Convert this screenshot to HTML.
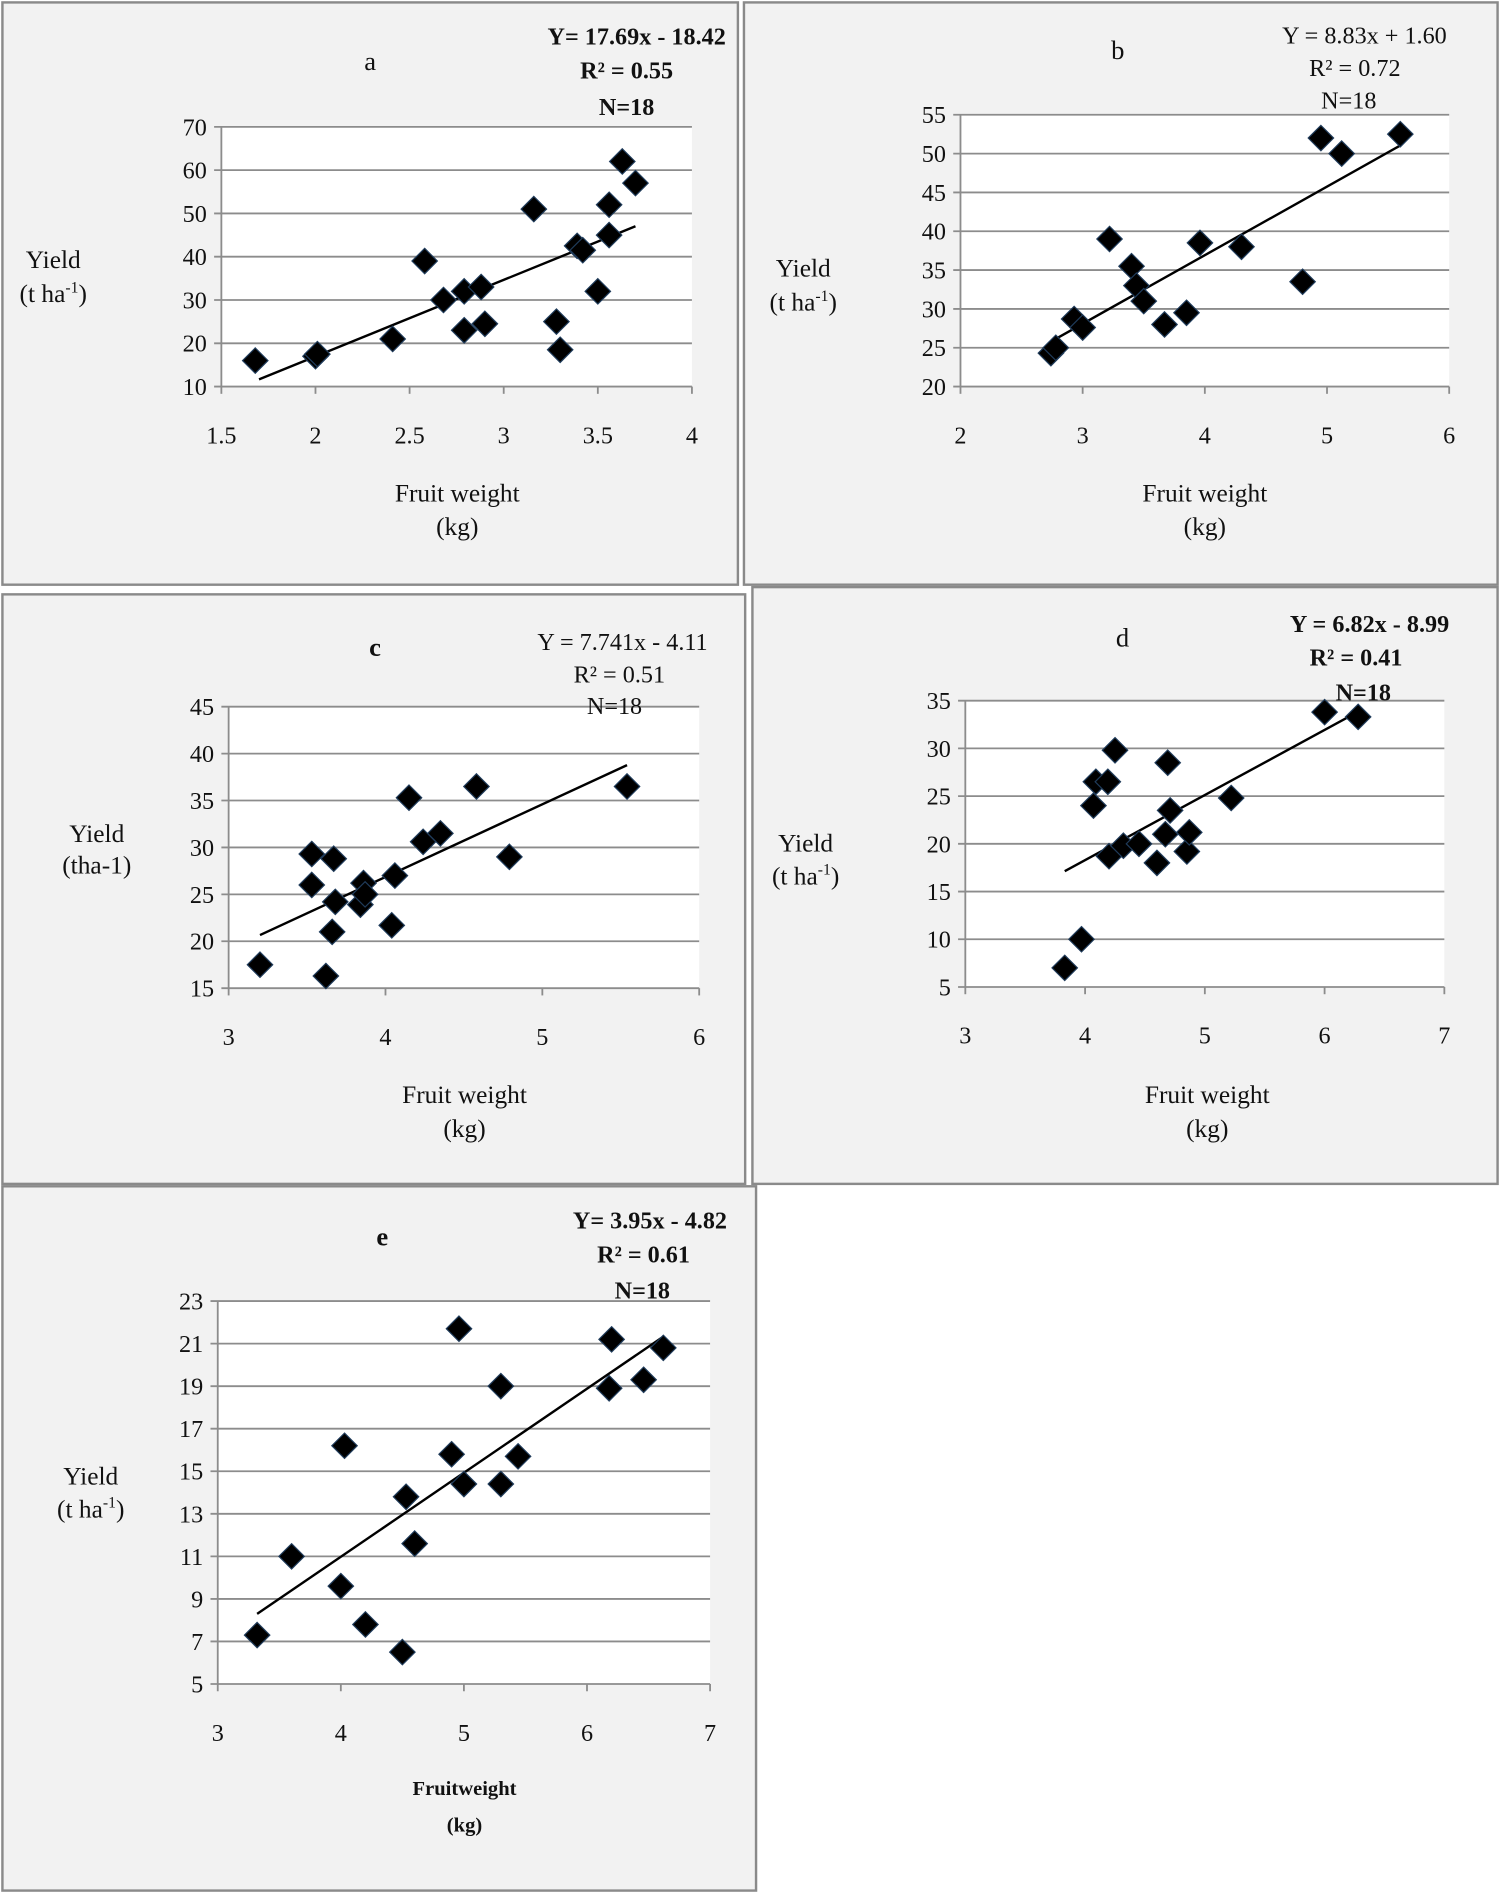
<!DOCTYPE html>
<html><head><meta charset="utf-8"><style>
html,body{margin:0;padding:0;background:#fff;}
svg{display:block;}
text{font-family:"Liberation Serif",serif;fill:#111;}
</style></head><body>
<svg id="root" width="1500" height="1893" viewBox="0 0 1240 1567" preserveAspectRatio="none" xmlns="http://www.w3.org/2000/svg"></svg>
<script>
// Panel a
const aX=[1.68,2.0,2.01,2.41,2.58,2.68,2.79,2.79,2.88,2.9,3.16,3.28,3.3,3.39,3.42,3.5,3.56,3.56,3.63,3.7];
const aY=[16,17,17.5,21,39,30,32,23,33,24.5,51,25,18.5,42.5,41.5,32,45,52,62,57];
const aXTicks=[1.5,2,2.5,3,3.5,4];
const aYTicks=[10,20,30,40,50,60,70];
const aEq=["Y= 17.69x - 18.42","R² = 0.55","N=18"];
const aCoef=[17.69,-18.42];
// Panel b
const bX=[2.74,2.78,2.93,3.0,3.22,3.4,3.44,3.5,3.67,3.85,3.96,4.3,4.8,4.95,5.12,5.6];
const bY=[24.3,25,28.7,27.6,39,35.5,33,31,28,29.5,38.5,38,33.5,52,50,52.5];
const bXTicks=[2,3,4,5,6];
const bYTicks=[20,25,30,35,40,45,50,55];
const bEq=["Y = 8.83x + 1.60","R² = 0.72","N=18"];
const bCoef=[8.83,1.60];
// Panel c
const cX=[3.2,3.53,3.53,3.62,3.66,3.67,3.68,3.84,3.86,3.87,4.04,4.06,4.15,4.24,4.35,4.58,4.79,5.54];
const cY=[17.5,29.3,26,16.3,21,28.8,24.2,23.9,26.2,25,21.7,27,35.3,30.6,31.5,36.5,29,36.5];
const cXTicks=[3,4,5,6];
const cYTicks=[15,20,25,30,35,40,45];
const cEq=["Y = 7.741x - 4.11","R² = 0.51","N=18"];
const cCoef=[7.741,-4.11];
// Panel d
const dX=[3.83,3.97,4.07,4.09,4.19,4.2,4.25,4.32,4.45,4.6,4.67,4.69,4.71,4.85,4.87,5.22,6.0,6.28];
const dY=[7,10,24,26.5,26.5,18.7,29.8,19.8,20,18,21,28.5,23.5,19.2,21.2,24.8,33.8,33.3];
const dXTicks=[3,4,5,6,7];
const dYTicks=[5,10,15,20,25,30,35];
const dEq=["Y = 6.82x - 8.99","R² = 0.41","N=18"];
const dCoef=[6.82,-8.99];
// Panel e
const eX=[3.32,3.6,4.0,4.03,4.2,4.5,4.53,4.6,4.9,4.96,5.0,5.3,5.3,5.44,6.18,6.2,6.46,6.62];
const eY=[7.3,11,9.6,16.2,7.8,6.5,13.8,11.6,15.8,21.7,14.4,14.4,19,15.7,18.9,21.2,19.3,20.8];
const eXTicks=[3,4,5,6,7];
const eYTicks=[5,7,9,11,13,15,17,19,21,23];
const eEq=["Y= 3.95x - 4.82","R² = 0.61","N=18"];
const eCoef=[3.95,-4.82];

const NS="http://www.w3.org/2000/svg";
const root=document.getElementById('root');
function mk(tag,attrs,parent){const e=document.createElementNS(NS,tag);for(const k in attrs)e.setAttribute(k,attrs[k]);(parent||root).appendChild(e);return e;}

const panels=[
 {id:'a',X:aX,Y:aY,xt:aXTicks,yt:aYTicks,eq:aEq,coef:aCoef,box:[2,2,608,482],plot:[183,105,572,320],title:[306,58],eqx:600,eqc:[518,518],eqy:[37,65,95],eqBold:true,titleBold:false,yl:[44,222,250],xl:[378,415,443],xlBold:false,trend:[1.7,3.7]},
 {id:'b',X:bX,Y:bY,xt:bXTicks,yt:bYTicks,eq:bEq,coef:bCoef,box:[615,2,623,482],plot:[794,95,1198,320],title:[924,49],eqx:1196,eqc:[1120,1115],eqy:[36,63,90],eqBold:false,titleBold:false,yl:[664,229,257],xl:[996,415,443],xlBold:false,trend:[2.75,5.6]},
 {id:'c',X:cX,Y:cY,xt:cXTicks,yt:cYTicks,eq:cEq,coef:cCoef,box:[2,492,614,488],plot:[189,585,578,818],title:[310,543],eqx:585,eqc:[512,508],eqy:[538,565,591],eqBold:false,titleBold:true,yl:[80,697,723],xl:[384,913,941],xlBold:false,trend:[3.2,5.54]},
 {id:'d',X:dX,Y:dY,xt:dXTicks,yt:dYTicks,eq:dEq,coef:dCoef,box:[622,486,616,494],plot:[798,580,1194,817],title:[928,535],eqx:1198,eqc:[1121,1127],eqy:[523,551,580],eqBold:true,titleBold:false,yl:[666,705,732],xl:[998,913,941],xlBold:false,trend:[3.83,6.28]},
 {id:'e',X:eX,Y:eY,xt:eXTicks,yt:eYTicks,eq:eEq,coef:eCoef,box:[2,982,623,583],plot:[180,1077,587,1394],title:[316,1031],eqx:601,eqc:[532,531],eqy:[1017,1045,1075],eqBold:true,titleBold:true,yl:[75,1229,1256],xl:[384,1486,1516],xlBold:true,trend:[3.32,6.62]}
];

panels.forEach(p=>{
 const g=mk('g',{});
 
 
 const bx=mk('rect',{x:p.box[0],y:p.box[1],width:p.box[2],height:p.box[3],fill:'#f2f2f2',stroke:'#8a8a8a','stroke-width':2},g);
 
 
 const [L,T,R,B]=p.plot;
 const x0=p.xt[0],x1=p.xt[p.xt.length-1],y0=p.yt[0],y1=p.yt[p.yt.length-1];
 const sx=v=>L+(v-x0)/(x1-x0)*(R-L);
 const sy=v=>B-(v-y0)/(y1-y0)*(B-T);
 const pa=mk('rect',{x:L,y:T,width:R-L,height:B-T,fill:'#fff'},g);
 
 
 p.yt.forEach(v=>{
  const ln=mk('line',{x1:L-6,x2:R,y1:sy(v),y2:sy(v),stroke:'#8c8c8c','stroke-width':1.5},g);
  
  
  const t=mk('text',{x:L-12,y:sy(v)+7,'text-anchor':'end','font-size':20},g);
  t.textContent=v;
  
  
 });
 const ax=mk('line',{x1:L,x2:L,y1:T,y2:B,stroke:'#8c8c8c','stroke-width':1.5},g);
 
 
 p.xt.forEach(v=>{
  const tk=mk('line',{x1:sx(v),x2:sx(v),y1:B,y2:B+6,stroke:'#8c8c8c','stroke-width':1.5},g);
  
  
  const t=mk('text',{x:sx(v),y:B+47,'text-anchor':'middle','font-size':20},g);
  t.textContent=v;
  
  
 });
 const tr=mk('line',{x1:sx(p.trend[0]),y1:sy(p.coef[0]*p.trend[0]+p.coef[1]),x2:sx(p.trend[1]),y2:sy(p.coef[0]*p.trend[1]+p.coef[1]),stroke:'#000','stroke-width':2},g);
 
 
 p.X.forEach((xv,i)=>{
  const cx=sx(xv),cy=sy(p.Y[i]),r=10.5;
  const d=mk('polygon',{points:`${cx},${cy-r} ${cx+r},${cy} ${cx},${cy+r} ${cx-r},${cy}`,fill:'#000',stroke:'#1f3b5a','stroke-width':1},g);
  
  
 });
 const ti=mk('text',{x:p.title[0],y:p.title[1],'text-anchor':'middle','font-size':22,'font-weight':p.titleBold?'bold':'normal'},g);
 ti.textContent=p.id;
 
 
 p.eq.forEach((s,i)=>{
  const t=mk('text',{x:i==0?p.eqx:p.eqc[i-1],y:p.eqy[i],'text-anchor':i==0?'end':'middle','font-size':20,'font-weight':p.eqBold?'bold':'normal'},g);
  t.textContent=s;
  
  
 });
 const y1t=mk('text',{x:p.yl[0],y:p.yl[1],'text-anchor':'middle','font-size':21},g);
 y1t.textContent='Yield';
 
 
 const y2t=mk('text',{x:p.yl[0],y:p.yl[2],'text-anchor':'middle','font-size':21},g);
 if(p.id==='c'){y2t.textContent='(tha-1)';}
 else{y2t.textContent='(t ha';const s=mk('tspan',{dy:-8,'font-size':13},y2t);s.textContent='-1';const s2=mk('tspan',{dy:8},y2t);s2.textContent=')';}
 
 
 const x1t=mk('text',{x:p.xl[0],y:p.xl[1],'text-anchor':'middle','font-size':p.xlBold?17:21,'font-weight':p.xlBold?'bold':'normal'},g);
 x1t.textContent=p.xlBold?'Fruitweight':'Fruit weight';
 
 
 const x2t=mk('text',{x:p.xl[0],y:p.xl[2],'text-anchor':'middle','font-size':p.xlBold?17:21,'font-weight':p.xlBold?'bold':'normal'},g);
 x2t.textContent='(kg)';
 
 
});
</script>
</body></html>
